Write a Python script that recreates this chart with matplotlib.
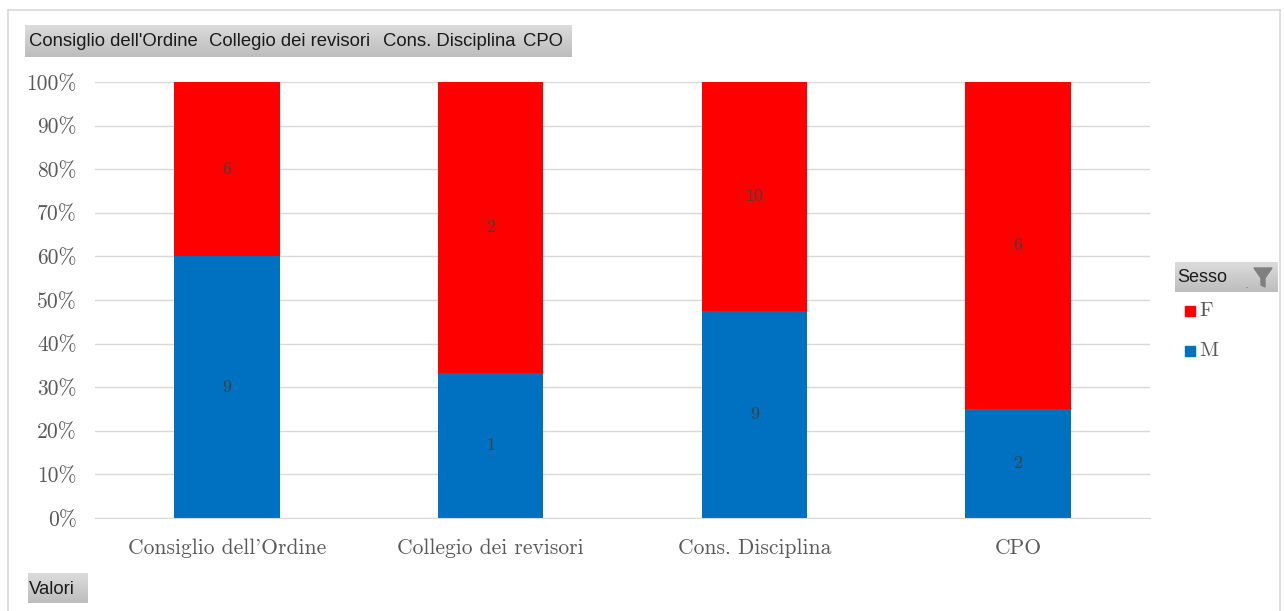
import matplotlib
matplotlib.use("Agg")
import matplotlib.pyplot as plt
from matplotlib.patches import Rectangle, Polygon
import numpy as np

categories = ["Consiglio dell'Ordine", "Collegio dei revisori", "Cons. Disciplina", "CPO"]
m_counts = [9, 1, 9, 2]
f_counts = [6, 2, 10, 6]
series_names = ["F", "M"]
yticks = [0, 10, 20, 30, 40, 50, 60, 70, 80, 90, 100]

RED = "#FF0000"
BLUE = "#0070C0"
GRAY_TXT = "#595959"
SERIF = ["cmr10", "DejaVu Serif"]
SANS = "Liberation Sans"
W, H = 1284, 611

fig = plt.figure(figsize=(W / 100, H / 100), dpi=100)

def fx(px):
    return px / W

def fy(py):
    return 1 - py / H

# outer frame
frame = fig.add_axes([0, 0, 1, 1])
frame.set_xlim(0, W)
frame.set_ylim(H, 0)
frame.axis("off")
frame.plot([8, 8], [10, H], color="#D9D9D9", lw=1.2)
frame.plot([8, W - 4], [10, 10], color="#D9D9D9", lw=1.2)
frame.plot([W - 4, W - 4], [10, H], color="#D9D9D9", lw=1.2)

def button(x0, y0, x1, y1):
    grad = np.linspace(0.86, 0.74, 50).reshape(-1, 1)
    frame.imshow(grad, extent=[x0, x1, y1, y0], cmap="gray", vmin=0, vmax=1,
                 aspect="auto", zorder=1)

# top field buttons
button(25, 25, 572, 57)
xs = [29, 209, 383, 523]
for xx, t in zip(xs, categories):
    frame.text(xx, 42, t, fontsize=13.3, color="#1a1a1a", family=SANS,
               va="center", ha="left", zorder=2)
button(28, 573, 88, 603)
frame.text(29, 589, "Valori", fontsize=13.3, color="#1a1a1a", family=SANS,
           va="center", ha="left", zorder=2)
# legend header
button(1175, 262, 1278, 292)
frame.text(1177, 278, "Sesso", fontsize=13, color="#1a1a1a", family=SANS,
           va="center", ha="left", zorder=2)
frame.add_patch(Polygon([[1254, 268], [1272, 268], [1265, 278], [1265, 287], [1261, 285], [1261, 278]],
                        closed=True, color="#7f7f7f", zorder=3))
frame.text(1247, 284, ".", fontsize=9, color="#7f7f7f", zorder=3, ha="center", va="center")
frame.set_xlim(0, W)
frame.set_ylim(H, 0)

# main axes
ax = fig.add_axes([fx(95), fy(518), fx(1150) - fx(95), fy(82) - fy(518)])
x = np.arange(len(categories))
tot = np.array(m_counts) + np.array(f_counts)
m_pct = np.array(m_counts) / tot * 100
f_pct = np.array(f_counts) / tot * 100
bw = 0.4
ax.bar(x, m_pct, width=bw, color=BLUE, zorder=2)
ax.bar(x, f_pct, width=bw, bottom=m_pct, color=RED, zorder=2)
for i in range(len(categories)):
    ax.text(x[i], m_pct[i] / 2, str(m_counts[i]), ha="center", va="center",
            fontsize=13, color="#404040", family=SERIF, zorder=3)
    ax.text(x[i], m_pct[i] + f_pct[i] / 2, str(f_counts[i]), ha="center", va="center",
            fontsize=13, color="#404040", family=SERIF, zorder=3)

ax.set_xlim(-0.5, len(categories) - 0.5)
ax.set_ylim(0, 100)
ax.set_yticks(yticks)
ax.set_yticklabels([f"{v}%" for v in yticks])
ax.set_xticks(x)
ax.set_xticklabels(categories)
ax.yaxis.grid(True, color="#D9D9D9", lw=1, zorder=0)
for s in ["top", "right", "left"]:
    ax.spines[s].set_visible(False)
ax.spines["bottom"].set_color("#D9D9D9")
ax.tick_params(axis="x", length=0, colors=GRAY_TXT, labelsize=15.5, pad=15)
ax.tick_params(axis="y", length=0, colors=GRAY_TXT, labelsize=15.5, pad=13)
for lab in ax.get_xticklabels() + ax.get_yticklabels():
    lab.set_family(SERIF)
    lab.set_color(GRAY_TXT)

# legend
for name, col, py in zip(series_names, [RED, BLUE], [311, 351]):
    frame.add_patch(Rectangle((1185, py - 5), 10, 10, color=col, zorder=3))
    frame.text(1199, py, name, fontsize=15, color=GRAY_TXT, family=SERIF,
               va="center", ha="left", zorder=3)

fig.savefig("out.png", dpi=100)
